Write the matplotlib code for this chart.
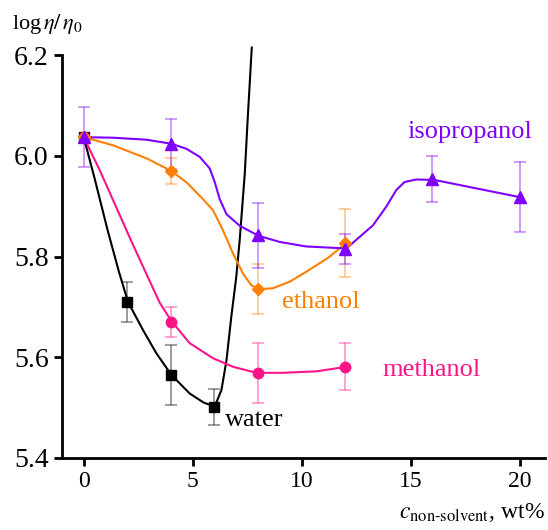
import numpy as np
import matplotlib
matplotlib.use("Agg")
import matplotlib.pyplot as plt

plt.rcParams['font.family'] = ['Liberation Serif', 'DejaVu Serif']
plt.rcParams['mathtext.fontset'] = 'stix'

# measured points (markers + error bars)
iso_x = [0, 4, 8, 12, 16, 20]
iso_y = [6.037, 6.023, 5.842, 5.815, 5.954, 5.918]
iso_err = [0.06, 0.05, 0.065, 0.03, 0.045, 0.07]

eth_x = [0, 4, 8, 12]
eth_y = [6.037, 5.970, 5.735, 5.827]
eth_err = [0.0, 0.025, 0.05, 0.068]

met_x = [0, 4, 8, 12]
met_y = [6.037, 5.670, 5.569, 5.581]
met_err = [0.0, 0.03, 0.06, 0.047]

wat_x = [0, 2, 4, 6]
wat_y = [6.037, 5.710, 5.565, 5.501]
wat_err = [0.0, 0.04, 0.06, 0.035]

# fitted curves
iso_cx = [0, 1.34, 2.88, 4.02, 4.71, 5.32, 5.78, 6.01, 6.24, 6.55, 7.16, 8.03, 8.99, 10.2,
          12.05, 12.66, 13.27, 13.88, 14.34, 14.72, 15.26, 16.1, 20]
iso_cy = [6.037, 6.036, 6.032, 6.024, 6.014, 5.998, 5.975, 5.948, 5.914, 5.884, 5.861, 5.841, 5.829, 5.820,
          5.816, 5.839, 5.862, 5.899, 5.932, 5.948, 5.953, 5.952, 5.918]

eth_cx = [0, 1.34, 2.88, 4.02, 4.75, 5.47, 5.93, 6.39, 6.85, 7.31, 7.69, 8.03, 8.68, 9.45, 10.22, 11.2, 12.05]
eth_cy = [6.037, 6.021, 5.995, 5.970, 5.946, 5.914, 5.892, 5.852, 5.806, 5.766, 5.743, 5.735, 5.737, 5.750, 5.770, 5.797, 5.827]

met_cx = [0, 0.73, 1.45, 2.19, 2.88, 3.49, 4.02, 4.86, 5.93, 6.85, 7.92, 9.13, 10.69, 12.05]
met_cy = [6.037, 5.972, 5.902, 5.830, 5.765, 5.708, 5.672, 5.628, 5.598, 5.581, 5.569, 5.569, 5.572, 5.581]

wat_cx = [0, 0.5, 1.08, 1.6, 2.03, 2.72, 3.33, 4.02, 4.86, 5.5, 6.01, 6.32, 6.55, 6.77, 7.0, 7.16, 7.39, 7.52, 7.71]
wat_cy = [6.037, 5.955, 5.855, 5.772, 5.710, 5.654, 5.608, 5.565, 5.528, 5.510, 5.502, 5.535, 5.594, 5.680, 5.760, 5.835, 5.965, 6.071, 6.215]

c_iso = '#7F00FF'
c_eth = '#FF8000'
c_met = '#FF1488'
c_wat = 'black'

fig = plt.figure(figsize=(5.48, 5.30), dpi=100)
ax = fig.add_axes([0.113, 0.136, 0.881, 0.779])

series = [
    (wat_cx, wat_cy, wat_x, wat_y, wat_err, c_wat, 's', 6.5),
    (met_cx, met_cy, met_x, met_y, met_err, c_met, 'o', 7.5),
    (eth_cx, eth_cy, eth_x, eth_y, eth_err, c_eth, 'D', 6.5),
    (iso_cx, iso_cy, iso_x, iso_y, iso_err, c_iso, '^', 8.5),
]
for cx, cy, x, y, e, col, mk, ms in series:
    ax.plot(cx, cy, color=col, lw=1.5, zorder=3, solid_joinstyle='round')
    ax.errorbar(x, y, yerr=e, fmt='none', ecolor=col, alpha=0.45,
                elinewidth=1.2, capsize=4, capthick=1.2, zorder=2)
    ax.plot(x, y, ls='none', marker=mk, ms=ms, color=col, zorder=4)

ax.text(17.7, 6.047, 'isopropanol', color=c_iso, fontsize=19, ha='center', va='center')
ax.text(9.1, 5.71, 'ethanol', color=c_eth, fontsize=19, ha='left', va='center')
ax.text(13.7, 5.575, 'methanol', color=c_met, fontsize=19, ha='left', va='center')
ax.text(6.5, 5.475, 'water', color=c_wat, fontsize=19, ha='left', va='center')

ax.set_xlim(-1.0, 21.15)
ax.set_ylim(5.4, 6.22)
ax.set_xticks([0, 5, 10, 15, 20])
ax.set_yticks([5.4, 5.6, 5.8, 6.0, 6.2])
ax.set_yticklabels(['5.4', '5.6', '5.8', '6.0', '6.2'])
ax.spines['top'].set_visible(False)
ax.spines['right'].set_visible(False)
ax.spines['left'].set_bounds(5.4, 6.2)
ax.spines['left'].set_linewidth(2)
ax.spines['bottom'].set_linewidth(2)
ax.tick_params(axis='y', labelsize=20, width=2, length=6, direction='out')
ax.tick_params(axis='x', labelsize=17, width=2, length=6, direction='out')

fig.text(0.022, 0.945, r'log$\,\eta/\,\eta_0$', fontsize=16, ha='left', va='baseline')
fig.text(0.995, 0.022, r'$c_{\mathrm{non\text{-}solvent}}$, wt%', fontsize=17, ha='right', va='baseline')

fig.savefig('out.png', dpi=100)
